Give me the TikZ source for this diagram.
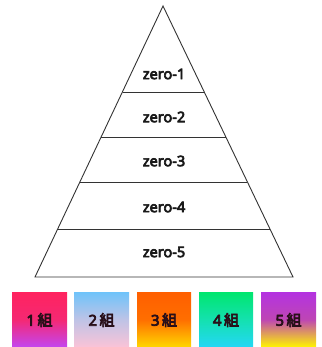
\documentclass[tikz,border=0pt]{standalone}
\usepackage{fontspec}
\setmainfont{Noto Sans}
\newfontfamily\lblfont{Noto Sans}[FakeBold=4.5]
\newfontfamily\cjkbold{Noto Sans CJK JP}[FakeBold=4.5]
\begin{document}
\begin{tikzpicture}[x=1pt,y=-1pt,
  edge/.style={draw=black!80, line width=0.9pt},
  lbl/.style={font=\lblfont\fontsize{14.5}{15}\selectfont, text=black!90},
  boxlbl/.style={font=\fontsize{15}{15}\selectfont, text={rgb,255:red,40;green,15;blue,25}}]
\useasboundingbox (0,0) rectangle (321,347);
% pyramid
\coordinate (apex) at (163,6);
\coordinate (bl) at (35,277);
\coordinate (br) at (293,277);
\coordinate (l1) at (122.8,92.7);
\coordinate (r1) at (204.3,92.7);
\coordinate (l2) at (101.3,137);
\coordinate (r2) at (225.5,137);
\coordinate (l3) at (80,182);
\coordinate (r3) at (247.1,182);
\coordinate (l4) at (57.8,229);
\coordinate (r4) at (269.8,229);
\draw[edge, line join=miter] (apex) -- (bl) -- (br) -- cycle;
\draw[edge] (l1) -- (r1);
\draw[edge] (l2) -- (r2);
\draw[edge] (l3) -- (r3);
\draw[edge] (l4) -- (r4);
\node[lbl] (z1) at (164,74) {zero-1};
\node[lbl] (z2) at (164,117) {zero-2};
\node[lbl] (z3) at (164,161) {zero-3};
\node[lbl] (z4) at (164,207) {zero-4};
\node[lbl] (z5) at (164,252) {zero-5};
% boxes
\shade[top color={rgb,255:red,255;green,35;blue,95}, bottom color={rgb,255:red,195;green,70;blue,240}, middle color={rgb,255:red,245;green,40;blue,115}] (12,292) rectangle (67,347);
\shade[top color={rgb,255:red,110;green,195;blue,250}, bottom color={rgb,255:red,250;green,195;blue,215}, middle color={rgb,255:red,190;green,195;blue,230}] (74,292) rectangle (129,347);
\shade[top color={rgb,255:red,255;green,95;blue,0}, bottom color={rgb,255:red,255;green,215;blue,0}, middle color={rgb,255:red,255;green,110;blue,0}] (137,292) rectangle (191,347);
\shade[top color={rgb,255:red,0;green,230;blue,110}, bottom color={rgb,255:red,35;green,215;blue,245}, middle color={rgb,255:red,20;green,225;blue,175}] (199,292) rectangle (253,347);
\shade[top color={rgb,255:red,180;green,50;blue,225}, bottom color={rgb,255:red,255;green,245;blue,0}, middle color={rgb,255:red,190;green,70;blue,180}] (261,292) rectangle (316,347);
\node[boxlbl] (b1) at (39.5,320) {{\lblfont 1}\,{\cjkbold 組}};
\node[boxlbl] (b2) at (101.5,320) {{\lblfont 2}\,{\cjkbold 組}};
\node[boxlbl] (b3) at (164,320) {{\lblfont 3}\,{\cjkbold 組}};
\node[boxlbl] (b4) at (226,320) {{\lblfont 4}\,{\cjkbold 組}};
\node[boxlbl] (b5) at (288.5,320) {{\lblfont 5}\,{\cjkbold 組}};
\end{tikzpicture}
\end{document}
